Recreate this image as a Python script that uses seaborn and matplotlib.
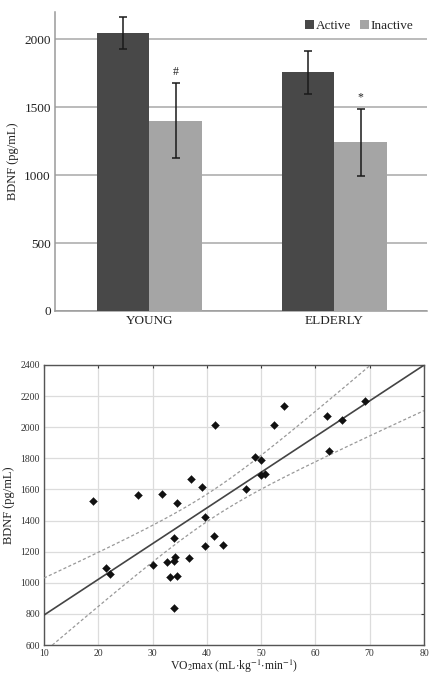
import numpy as np
import pandas as pd
import matplotlib
matplotlib.use("Agg")
import matplotlib.pyplot as plt
import seaborn as sns

# ---------------- data ----------------
groups = ["YOUNG", "ELDERLY"]
statuses = ["Active", "Inactive"]
active_mean = [2045, 1757]
active_sd = [115, 157]
inactive_mean = [1400, 1240]
inactive_sd = [275, 247]
marks = ["#", "*"]

vo2 = [18.96, 21.47, 22.15, 27.36, 30.06, 31.78, 32.64, 33.25, 33.87, 33.93,
       34.05, 33.87, 34.42, 34.48, 36.63, 37.0, 39.02, 39.69, 39.69, 41.23,
       41.47, 43.0, 47.12, 48.9, 49.9, 49.94, 50.74, 52.45, 54.17, 62.15,
       62.45, 64.9, 69.08]
bdnf = [1524, 1093, 1054, 1564, 1116, 1569, 1133, 1035, 1286, 1138,
        1166, 838, 1515, 1043, 1161, 1669, 1618, 1423, 1236, 1298,
        2012, 1241, 1601, 1811, 1790, 1693, 1699, 2012, 2139, 2070,
        1847, 2044, 2169]

# ---------------- style ----------------
sns.set_style("white")
plt.rcParams["font.family"] = ["Liberation Serif", "DejaVu Serif"]
plt.rcParams["mathtext.fontset"] = "stix"

fig = plt.figure(figsize=(4.31, 6.75), dpi=100)

# ---------------- top: bar chart ----------------
ax1 = fig.add_axes([0.1276, 0.5393, 0.8631, 0.4429])
df = pd.DataFrame({
    "group": groups + groups,
    "status": [statuses[0]] * 2 + [statuses[1]] * 2,
    "value": active_mean + inactive_mean,
})
sns.barplot(data=df, x="group", y="value", hue="status", order=groups,
            hue_order=statuses, palette=["#484848", "#a5a5a5"], width=0.57,
            saturation=1, errorbar=None, ax=ax1, zorder=3, linewidth=0)
ax1.set_xlim(-0.51, 1.50)
ax1.set_ylim(0, 2200)
ax1.set_yticks([0, 500, 1000, 1500, 2000])
ax1.yaxis.grid(True, color="#a8a8a8", linewidth=1.1, zorder=0)
ax1.set_axisbelow(True)
for s in ["top", "right"]:
    ax1.spines[s].set_visible(False)
for s in ["left", "bottom"]:
    ax1.spines[s].set_color("#9a9a9a")
    ax1.spines[s].set_linewidth(1.1)
ax1.tick_params(axis="both", length=0, labelsize=9.5, colors="#222222", pad=3)
ax1.set_xlabel("")
ax1.set_ylabel("BDNF (pg/mL)", fontsize=9, color="#222222", labelpad=4)

sds = [active_sd, inactive_sd]
means = [active_mean, inactive_mean]
bar_containers = list(ax1.containers)
for k, cont in enumerate(bar_containers):
    for i, bar in enumerate(cont.patches):
        cx = bar.get_x() + bar.get_width() / 2
        ax1.errorbar(cx, means[k][i], yerr=sds[k][i], color="#1a1a1a",
                     elinewidth=1.1, capsize=3, capthick=1.1, zorder=4)
        if k == 1:
            ax1.text(cx, means[k][i] + sds[k][i] + 40, marks[i], ha="center",
                     va="bottom", fontsize=8.5, color="#222222")

ax1.legend(loc="upper right", ncol=2, frameon=False, fontsize=9.5,
           handlelength=0.7, handleheight=0.7, handletextpad=0.15,
           columnspacing=0.6, borderaxespad=0.2, bbox_to_anchor=(0.985, 1.0))

# ---------------- bottom: scatter + regression ----------------
ax2 = fig.add_axes([0.1021, 0.0444, 0.8817, 0.4149])
ax2.set_xlim(10, 80)
ax2.set_ylim(600, 2400)
ax2.set_xticks(np.arange(10, 81, 10))
ax2.set_yticks(np.arange(600, 2401, 200))
ax2.grid(True, color="#dcdcdc", linewidth=0.9, zorder=0)
ax2.set_axisbelow(True)
for s in ax2.spines.values():
    s.set_color("#555555")
    s.set_linewidth(1.0)
ax2.tick_params(axis="both", direction="in", length=2.5, width=0.8,
                top=True, right=True, labelsize=7, colors="#333333", pad=3)

x = np.asarray(vo2, float)
y = np.asarray(bdnf, float)
sns.regplot(x=x, y=y, scatter=False, ci=None, truncate=False, ax=ax2,
            line_kws=dict(color="#444444", linewidth=1.2, zorder=3))

# 95% confidence band of the fitted line
n = len(x)
b1, b0 = np.polyfit(x, y, 1)
resid = y - (b0 + b1 * x)
s_err = np.sqrt(np.sum(resid ** 2) / (n - 2))
t_val = 2.0395
grid = np.linspace(10, 80, 200)
se = s_err * np.sqrt(1 / n + (grid - x.mean()) ** 2 / np.sum((x - x.mean()) ** 2))
fit = b0 + b1 * grid
sns.lineplot(x=grid, y=fit + t_val * se, ax=ax2, color="#999999",
             linewidth=0.9, linestyle=(0, (2.5, 1.8)), zorder=3)
sns.lineplot(x=grid, y=fit - t_val * se, ax=ax2, color="#999999",
             linewidth=0.9, linestyle=(0, (2.5, 1.8)), zorder=3)

sns.scatterplot(x=x, y=y, ax=ax2, marker="D", s=16, color="#111111",
                edgecolor="#111111", linewidth=0.3, zorder=4)

ax2.set_xlim(10, 80)
ax2.set_ylim(600, 2400)
ax2.set_xlabel(r"VO$_2$max (mL$\cdot$kg$^{-1}$$\cdot$min$^{-1}$)", fontsize=8.5,
               color="#222222", labelpad=0)
ax2.set_ylabel("BDNF (pg/mL)", fontsize=9, color="#222222", labelpad=4)

fig.savefig("out.png", dpi=100)
